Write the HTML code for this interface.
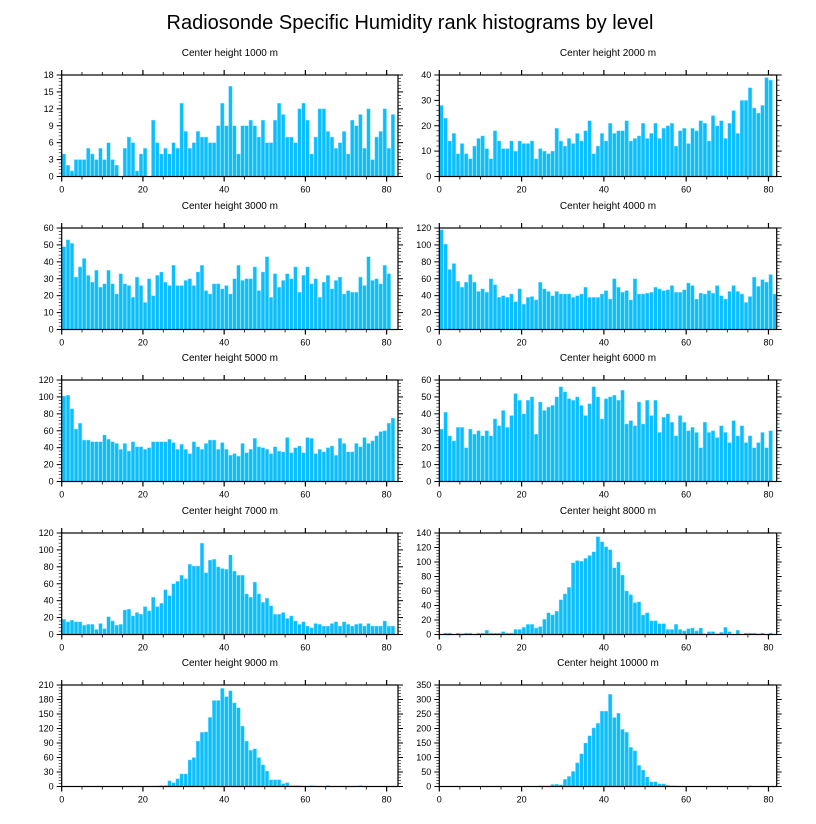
<!DOCTYPE html>
<html><head><meta charset="utf-8">
<style>
html,body{margin:0;padding:0;background:#fff;}
svg{display:block;font-family:"Liberation Sans",Arial,sans-serif;}
</style></head>
<body>
<svg id="chart" width="816" height="824" viewBox="0 0 816 824" xmlns="http://www.w3.org/2000/svg">
<rect width="816" height="824" fill="#fff"/>
<text x="410" y="29" font-size="20" text-anchor="middle" fill="#000">Radiosonde Specific Humidity rank histograms by level</text>
</svg>
<script>
const titles = ["Center height 1000 m","Center height 2000 m","Center height 3000 m","Center height 4000 m","Center height 5000 m","Center height 6000 m","Center height 7000 m","Center height 8000 m","Center height 9000 m","Center height 10000 m"];
const yMaxes = [18,40,60,120,120,60,120,140,210,350];
const yStepsMajor = [3,10,10,20,20,10,20,20,30,50];
const xTicks = [0,20,40,60,80];
const h1000 = [4,2,1,3,3,3,5,4,3,5,3,6,3,2,0,5,7,6,1,4,5,0,10,6,4,5,4,6,5,13,8,5,6,8,7,7,6,6,9,13,9,16,9,4,9,9,10,9,7,10,6,6,10,13,11,7,7,6,12,13,10,4,7,12,12,8,7,5,6,8,4,10,9,11,5,12,3,7,8,12,5,11];
const h2000 = [28,23,14,17,9,13,9,7,12,15,16,11,7,18,14,11,11,14,10,14,13,13,14,7,11,10,9,10,19,14,12,15,13,17,14,18,22,9,12,17,14,21,17,18,18,22,14,15,16,21,15,17,21,15,19,20,21,12,18,19,13,19,18,22,21,14,24,20,22,15,21,26,17,30,30,35,27,25,28,39,38];
const h3000 = [49,53,51,31,37,42,32,28,35,25,27,35,27,21,33,27,26,19,31,26,16,30,20,32,34,28,26,38,26,26,29,30,26,34,38,23,21,27,27,24,26,21,30,38,29,30,30,37,23,34,43,19,33,25,29,33,30,37,22,32,37,27,30,19,28,32,24,29,31,21,23,22,22,31,26,43,29,30,27,38,33];
const h4000 = [118,101,71,78,57,50,56,65,56,45,48,44,60,53,38,40,38,42,33,48,30,38,39,35,56,48,45,40,45,42,42,42,38,40,42,50,38,38,38,42,46,36,60,50,44,46,35,60,42,42,43,44,50,48,46,47,52,44,44,47,55,52,36,43,42,46,43,52,40,36,45,52,45,42,32,39,62,51,59,56,65,42];
const h5000 = [101,102,86,62,69,49,49,47,47,47,55,50,47,45,38,45,36,47,41,41,38,40,47,47,47,47,50,46,38,44,38,33,47,41,38,45,49,49,38,46,38,31,33,30,45,34,38,51,41,40,38,33,41,36,35,52,34,40,42,34,52,51,33,38,35,40,42,31,51,45,35,35,45,41,52,45,48,54,59,60,69,75];
const h6000 = [31,41,27,24,32,32,20,31,28,30,27,30,27,37,33,42,32,39,52,48,40,48,50,28,47,42,44,45,50,56,53,49,48,50,45,39,46,56,50,37,49,50,51,48,54,34,36,33,47,34,48,39,48,29,38,40,35,27,39,35,30,32,29,20,35,29,30,26,33,29,23,36,27,33,23,27,20,23,29,20,30];
const h7000 = [18,15,17,15,15,11,12,12,6,13,7,21,16,11,12,29,30,22,26,24,33,28,44,33,37,53,46,60,63,70,66,83,81,81,108,73,88,89,80,78,77,94,75,70,70,48,44,62,48,38,43,34,24,24,26,19,22,16,12,15,10,8,13,12,10,10,13,15,10,15,12,10,12,13,10,13,10,10,10,16,10,10];
const h8000 = [0,2,2,0,2,1,2,2,0,2,2,6,2,2,2,4,2,2,7,7,10,14,14,9,11,21,30,27,32,48,56,65,99,102,101,105,109,114,135,128,121,117,92,100,82,60,55,44,45,27,30,19,19,15,15,7,7,14,7,5,8,9,5,9,1,4,4,1,3,10,4,0,6,0,2,2,2,1,2,0,2,0];
const h9000 = [0,0,0,0,0,0,0,0,0,0,0,0,0,0,0,0,0,1,0,0,0,0,1,1,2,2,12,8,16,26,26,55,60,94,112,113,143,178,178,203,186,198,173,163,125,94,75,78,60,45,32,14,14,14,6,8,2,2,2,1,1,2,1,1,0,2,0,0,0,1,0,0,1,2,0,0,0,0,0,0,0,0];
const h10000 = [0,0,0,0,0,0,0,0,0,0,0,0,0,0,0,0,0,0,0,0,0,0,0,1,2,2,2,7,8,6,25,35,52,82,113,150,175,202,218,260,260,318,238,253,197,187,135,123,73,57,33,16,16,9,9,4,3,2,1,1,1,1,0,0,0,0,0,0,0,0,0,0,0,0,1,2,0,0,1,0,1,0];
const seriesList = [h1000,h2000,h3000,h4000,h5000,h6000,h7000,h8000,h9000,h10000];

const NS = "http://www.w3.org/2000/svg";
const svg = document.getElementById('chart');
const rowTops = [75,228,380,533,685];
const plotH = 101.5;
const cols = [{x0:61.7, x1:398, xmax:82.8},{x0:439.3, x1:776.7, xmax:82.0}];

function mk(tag, attrs, parent){
  const e = document.createElementNS(NS, tag);
  for (const k in attrs) e.setAttribute(k, attrs[k]);
  (parent||svg).appendChild(e);
  return e;
}

for (let p = 0; p < 10; p++) {
  const col = cols[p % 2];
  const top = rowTops[Math.floor(p / 2)];
  const bot = top + plotH;
  const ymax = yMaxes[p];
  const xs = v => col.x0 + v / col.xmax * (col.x1 - col.x0);
  const ys = v => bot - v / ymax * plotH;
  const g = mk('g', {});
  
  

  const t = mk('text', {x: (col.x0 + col.x1) / 2, y: top - 19, 'font-size': 10, 'text-anchor': 'middle', fill: '#000'}, g);
  
  
  t.textContent = titles[p];

  const data = seriesList[p];
  const bars = mk('g', {}, g);
  
  
  for (let i = 0; i < data.length; i++) {
    if (data[i] <= 0) continue;
    const xa = xs(i + 0.1), xb = xs(i + 1.1);
    const r = mk('rect', {x: xa, y: ys(data[i]), width: Math.max(0.5, xb - xa - 0.5), height: bot - ys(data[i]), fill: '#0bbfff', stroke: '#8fe0ff', 'stroke-width': 0.4}, bars);
    
    
  }

  const frame = mk('rect', {x: col.x0, y: top, width: col.x1 - col.x0, height: plotH, fill: 'none', stroke: '#000', 'stroke-width': 1.2}, g);
  
  

  // x ticks
  for (let v = 0; v <= col.xmax; v += 5) {
    const x = xs(v);
    const major = v % 20 === 0;
    const L = major ? 5 : 3;
    mk('line', {x1: x, x2: x, y1: top, y2: top - L, stroke: '#000', 'stroke-width': major ? 1.2 : 0.8}, g);
    mk('line', {x1: x, x2: x, y1: bot, y2: bot + L, stroke: '#000', 'stroke-width': major ? 1.2 : 0.8}, g);
  }
  xTicks.forEach(v => {
    const tl = mk('text', {x: xs(v), y: bot + 16, 'font-size': 9, 'text-anchor': 'middle', fill: '#000'}, g);
    
    
    tl.textContent = v;
  });
  // y ticks
  const step = yStepsMajor[p];
  const minor = step / 5;
  for (let k = 0; k * minor <= ymax + 1e-9; k++) {
    const v = k * minor;
    const y = ys(v);
    const major = k % 5 === 0;
    const L = major ? 5 : 3;
    mk('line', {x1: col.x0, x2: col.x0 - L, y1: y, y2: y, stroke: '#000', 'stroke-width': major ? 1 : 0.6}, g);
    mk('line', {x1: col.x1, x2: col.x1 + L, y1: y, y2: y, stroke: '#000', 'stroke-width': major ? 1 : 0.6}, g);
    if (major) {
      const yl = mk('text', {x: col.x0 - 8, y: y + 3, 'font-size': 9, 'text-anchor': 'end', fill: '#000'}, g);
      
      
      yl.textContent = Math.round(v);
    }
  }
}
</script>
</body></html>
